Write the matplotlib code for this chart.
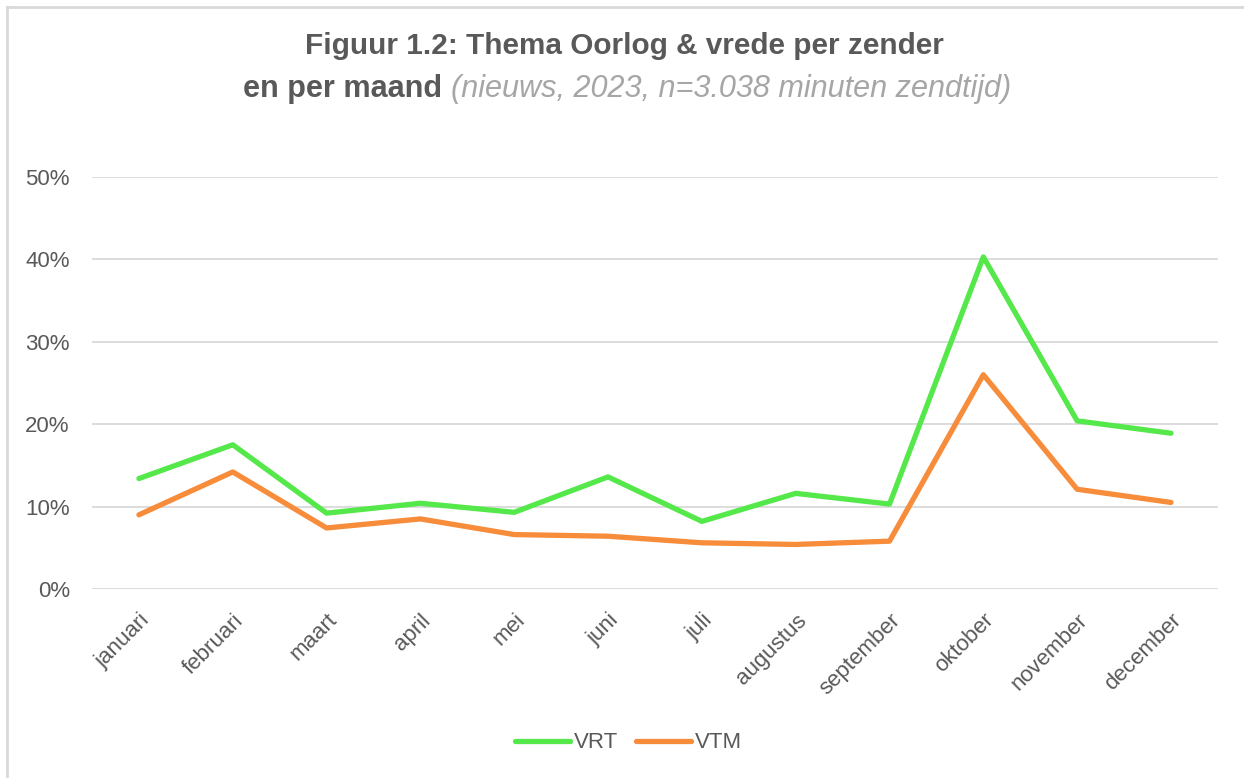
import matplotlib.pyplot as plt
from matplotlib.lines import Line2D
from matplotlib.ticker import PercentFormatter

maanden = ["januari", "februari", "maart", "april", "mei", "juni", "juli",
           "augustus", "september", "oktober", "november", "december"]
vrt = [13.4, 17.5, 9.2, 10.4, 9.3, 13.6, 8.2, 11.6, 10.3, 40.3, 20.4, 18.9]
vtm = [9.0, 14.2, 7.4, 8.5, 6.6, 6.4, 5.6, 5.4, 5.8, 26.0, 12.1, 10.5]

plt.rcParams['font.family'] = ['Liberation Sans', 'DejaVu Sans']
grey = "#595959"

fig = plt.figure(figsize=(12.44, 7.78), dpi=100)
ax = fig.add_axes([0.074, 0.243, 0.905, 0.5295])

x = list(range(len(maanden)))
ax.plot(x, [v / 100 for v in vrt], color="#55e84a", lw=3.8, label="VRT",
        solid_capstyle="round", solid_joinstyle="round")
ax.plot(x, [v / 100 for v in vtm], color="#f78c3b", lw=3.8, label="VTM",
        solid_capstyle="round", solid_joinstyle="round")

ax.set_xlim(-0.5, 11.5)
ax.set_ylim(0, 0.5)
ax.set_yticks([0, 0.1, 0.2, 0.3, 0.4, 0.5])
ax.yaxis.set_major_formatter(PercentFormatter(1.0, decimals=0))
ax.set_xticks(x)
ax.set_xticklabels(maanden, rotation=45, ha="right", rotation_mode="anchor")
ax.tick_params(length=0, labelsize=16, colors=grey)
ax.tick_params(axis="x", pad=15)
ax.tick_params(axis="y", pad=16)
ax.grid(axis="y", color="#d9d9d9", lw=1.3)
ax.set_axisbelow(True)
for s in ax.spines.values():
    s.set_visible(False)

leg = fig.legend(loc="center", bbox_to_anchor=(0.505, 0.045), ncol=2, frameon=False,
                 fontsize=16, handlelength=2.5, columnspacing=0.8, handletextpad=0.15)
for t in leg.get_texts():
    t.set_color(grey)

# outer chart border (top and left only visible)
fig.add_artist(Line2D([7 / 1244, 1.0], [1 - 7 / 778] * 2, transform=fig.transFigure,
                      color="#d9d9d9", lw=2))
fig.add_artist(Line2D([7 / 1244] * 2, [0, 1 - 7 / 778], transform=fig.transFigure,
                      color="#d9d9d9", lw=2))

t0 = fig.text(0.502, 0.941, "Figuur 1.2: Thema Oorlog & vrede per zender",
              ha="center", va="center", fontsize=20, fontweight="bold", color=grey)
t1 = fig.text(0.5, 0.885, "en per maand ", ha="left", va="center", fontsize=20,
              fontweight="bold", color=grey)
t2 = fig.text(0.5, 0.885, "(nieuws, 2023, n=3.038 minuten zendtijd)", ha="left",
              va="center", fontsize=20, style="italic", color="#a6a6a6")

# the reference uses a narrow font: shrink to the same line widths
r = fig.canvas.get_renderer()
w0 = t0.get_window_extent(r).width
t0.set_fontsize(20 * 637 / w0)
w = t1.get_window_extent(r).width + t2.get_window_extent(r).width
fs = 20 * 767 / w
t1.set_fontsize(fs)
t2.set_fontsize(fs)
w1 = t1.get_window_extent(r).width
t1.set_x(243 / 1244)
t2.set_x((243 + w1) / 1244)

fig.savefig("out.png", dpi=100)
